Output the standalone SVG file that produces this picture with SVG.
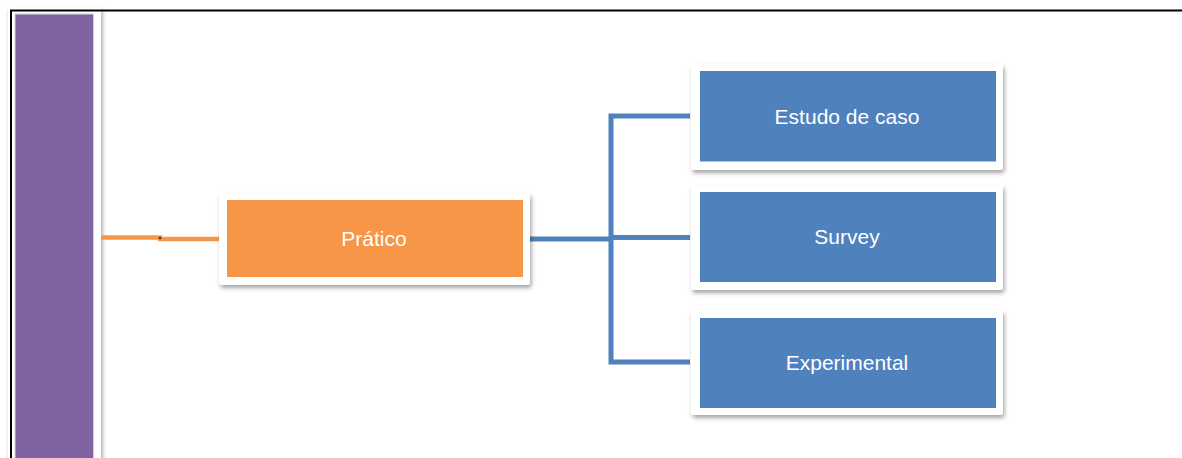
<svg xmlns="http://www.w3.org/2000/svg" width="1182" height="458" viewBox="0 0 1182 458">
  <defs>
    <filter id="shadow" x="-10%" y="-20%" width="120%" height="150%">
      <feDropShadow dx="1.5" dy="3" stdDeviation="2" flood-color="#000" flood-opacity="0.35"/>
    </filter>
    <style>
      .card { fill: #ffffff; filter: url(#shadow); }
      .orange { fill: #f79646; }
      .blue { fill: #4f81bd; }
      .label { font-family: "Liberation Sans", Arial, sans-serif; font-size: 21px; fill: #ffffff; text-anchor: middle; dominant-baseline: central; }
      .link-o { fill: none; stroke: #f79646; stroke-width: 4.5; }
      .link-b { fill: none; stroke: #4f81bd; stroke-width: 5; stroke-linejoin: miter; }
    </style>
  </defs>

  <rect width="1182" height="458" fill="#ffffff"/>

  <!-- outer frame -->
  <path d="M11 458 V10.5 H1182" fill="none" stroke="#000" stroke-width="2"/>

  <!-- side panel -->
  <g id="panel">
    <rect x="8" y="7" width="93" height="460" fill="#ffffff" filter="url(#shadow)"/>
    <path d="M11 458 V10.5 H101" fill="none" stroke="#000" stroke-width="2"/>
    <rect x="15" y="14" width="78.5" height="450" fill="#8064a2" stroke="#d8cde6" stroke-width="1"/>
  </g>

  <!-- connectors -->
  <g id="connectors">
    <path class="link-o" d="M101 237.5 H160 V239 H219"/>
    <circle cx="160" cy="238" r="1.3" fill="#333"/>
    <path class="link-b" d="M530 239 H611"/>
    <path class="link-b" d="M690 116 H611 V362 H690"/>
    <path class="link-b" d="M611 237.5 H690"/>
  </g>

  <g id="node-pratico">
    <rect class="card" x="219" y="193" width="311" height="92" rx="3"/>
    <rect class="orange" x="227" y="200" width="296" height="77"/>
    <text class="label" x="374" y="238.5">Prático</text>
  </g>

  <g id="node-estudo">
    <rect class="card" x="691" y="64" width="312" height="106" rx="3"/>
    <rect class="blue" x="700" y="71" width="296" height="90.5"/>
    <text class="label" x="847" y="116">Estudo de caso</text>
  </g>

  <g id="node-survey">
    <rect class="card" x="691" y="185" width="312" height="105" rx="3"/>
    <rect class="blue" x="700" y="192" width="296" height="90"/>
    <text class="label" x="847" y="236.5">Survey</text>
  </g>

  <g id="node-experimental">
    <rect class="card" x="691" y="310" width="312" height="105" rx="3"/>
    <rect class="blue" x="700" y="318" width="296" height="90"/>
    <text class="label" x="847" y="362">Experimental</text>
  </g>
</svg>
